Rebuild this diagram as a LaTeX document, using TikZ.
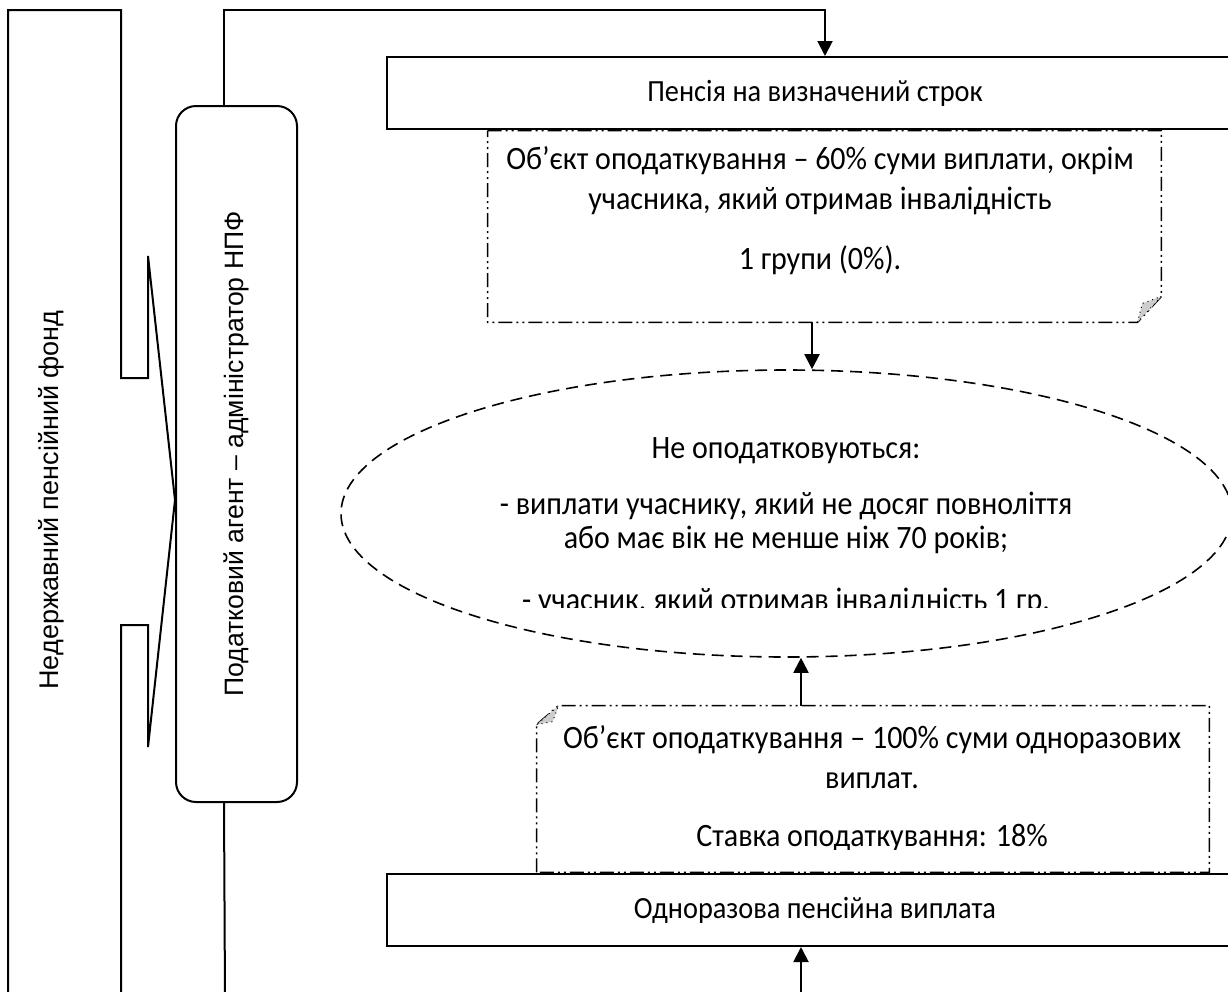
\documentclass[tikz,border=0pt]{standalone}
\usepackage{fontspec}
\setmainfont{Carlito}[FakeStretch=0.92]
\newfontfamily\arialfont{Liberation Sans}
\usetikzlibrary{shapes, arrows.meta, positioning}

\begin{document}
\begin{tikzpicture}[
				x=0.5pt, y=-0.5pt,
				every node/.style={font=\fontsize{16.3}{20}\selectfont},
				block/.style={rectangle, draw, line width=1pt, minimum width=428pt, minimum height=36pt, align=center, font=\fontsize{15.4}{18}\selectfont},
				agentbox/.style={rectangle, rounded corners=10pt, draw, line width=1pt, minimum width=60.5pt, minimum height=348pt},
				vtext/.style={rotate=90},
				note/.style={rectangle, inner sep=0pt},
				notetext/.style={align=center},
				noteline/.style={line width=0.8pt, dash pattern=on 7pt off 2pt on 1pt off 2pt on 1pt off 2pt},
				fold/.style={fill=gray!40, draw, line width=0.5pt, dotted},
				exemptbox/.style={ellipse, draw, line width=0.8pt, dash pattern=on 6pt off 3.5pt, minimum width=445.5pt, minimum height=143.5pt},
				frame/.style={line width=1pt},
				arrow/.style={line width=1pt, -{Triangle[length=7.5pt, width=7.5pt]}}
				]
				\useasboundingbox (0,0) rectangle (1228,992);
				\clip (0,0) rectangle (1228,992);
				
				% Nodes
				\node (agent) [agentbox] at (236.5,454) {};
				\node (agenttext) [vtext, font=\arialfont\fontsize{13.3}{16}\selectfont] at (agent.center) {Податковий агент – адміністратор НПФ};
				\node (fund) [vtext, font=\arialfont\fontsize{13.5}{16}\selectfont] at (51,500) {Недержавний пенсійний фонд};
				\node (note1) [note, minimum width=336.5pt, minimum height=95.5pt] at (824.5,226.5) {};
				\node (note2) [note, minimum width=336pt, minimum height=83pt] at (873,789) {};
				\node (pension) [block] at (815,93) {Пенсія на визначений строк};
				\node (pension2) [block] at (815,910) {Одноразова пенсійна виплата};
				\node (exempt) [exemptbox] at (786.5,513.5) {};
				\node (note1text) [notetext] at (820,211) {Об’єкт оподаткування – 60\% суми виплати, окрім\\учасника, який отримав інвалідність\\[10pt]1 групи (0\%).};
				\begin{scope}
					\clip (330,360) rectangle (1240,607);
					\node (exempttext) [notetext] at (786,527) {Не оподатковуються:\\[8pt]- виплати учаснику, який не досяг повноліття\\[-3pt]або має вік не менше ніж 70 років;\\[11pt]- учасник, який отримав інвалідність 1 гр.};
				\end{scope}
				\begin{scope}
					\clip (530,700) rectangle (1215,849);
					\node (note2text) [notetext] at (872,789) {Об’єкт оподаткування – 100\% суми одноразових\\виплат.\\[9pt]Ставка оподаткування: 18\%};
				\end{scope}
				
				% Shapes
				\draw[frame] (8,1000) -- (8,10) -- (121,10) -- (121,378) -- (148,378) -- (148,256)
					-- ([yshift=-23pt]agent.west) -- (148,747) -- (148,625) -- (121,625) -- (121,1000);
				\draw[noteline] (note1.north west) -- (note1.north east) -- ([yshift=13pt]note1.south east)
					-- ([xshift=-12pt]note1.south east) -- (note1.south west) -- cycle;
				\draw[fold] ([xshift=-12pt]note1.south east) -- ([xshift=-9.5pt,yshift=9.5pt]note1.south east) -- ([yshift=13pt]note1.south east) -- cycle;
				\draw[noteline] (note2.south west) -- ([yshift=-9.5pt]note2.north west) -- ([xshift=11pt]note2.north west)
					-- (note2.north east) -- (note2.south east) -- cycle;
				\draw[fold] ([yshift=-9.5pt]note2.north west) -- ([xshift=8pt,yshift=-8pt]note2.north west) -- ([xshift=11pt]note2.north west) -- cycle;
				
				% Arrows
				\coordinate (topturn) at (825,10);
				\coordinate (agentend) at (225,1000);
				\coordinate (botstart) at (801,1000);
				\draw [arrow] ([xshift=24.5pt]agent.north west) |- (topturn) -- (topturn |- pension.north);
				\draw [frame] ([xshift=24.5pt]agent.south west) -- (agentend);
				\draw [arrow] ([xshift=-6.25pt]note1.south) -- ([xshift=-6.25pt]note1.south |- exempt.north);
				\draw [arrow] ([xshift=-36pt]note2.north) -- ([xshift=-36pt]note2.north |- exempt.south);
				\draw [arrow] (botstart) -- (botstart |- pension2.south);
\end{tikzpicture}
\end{document}
